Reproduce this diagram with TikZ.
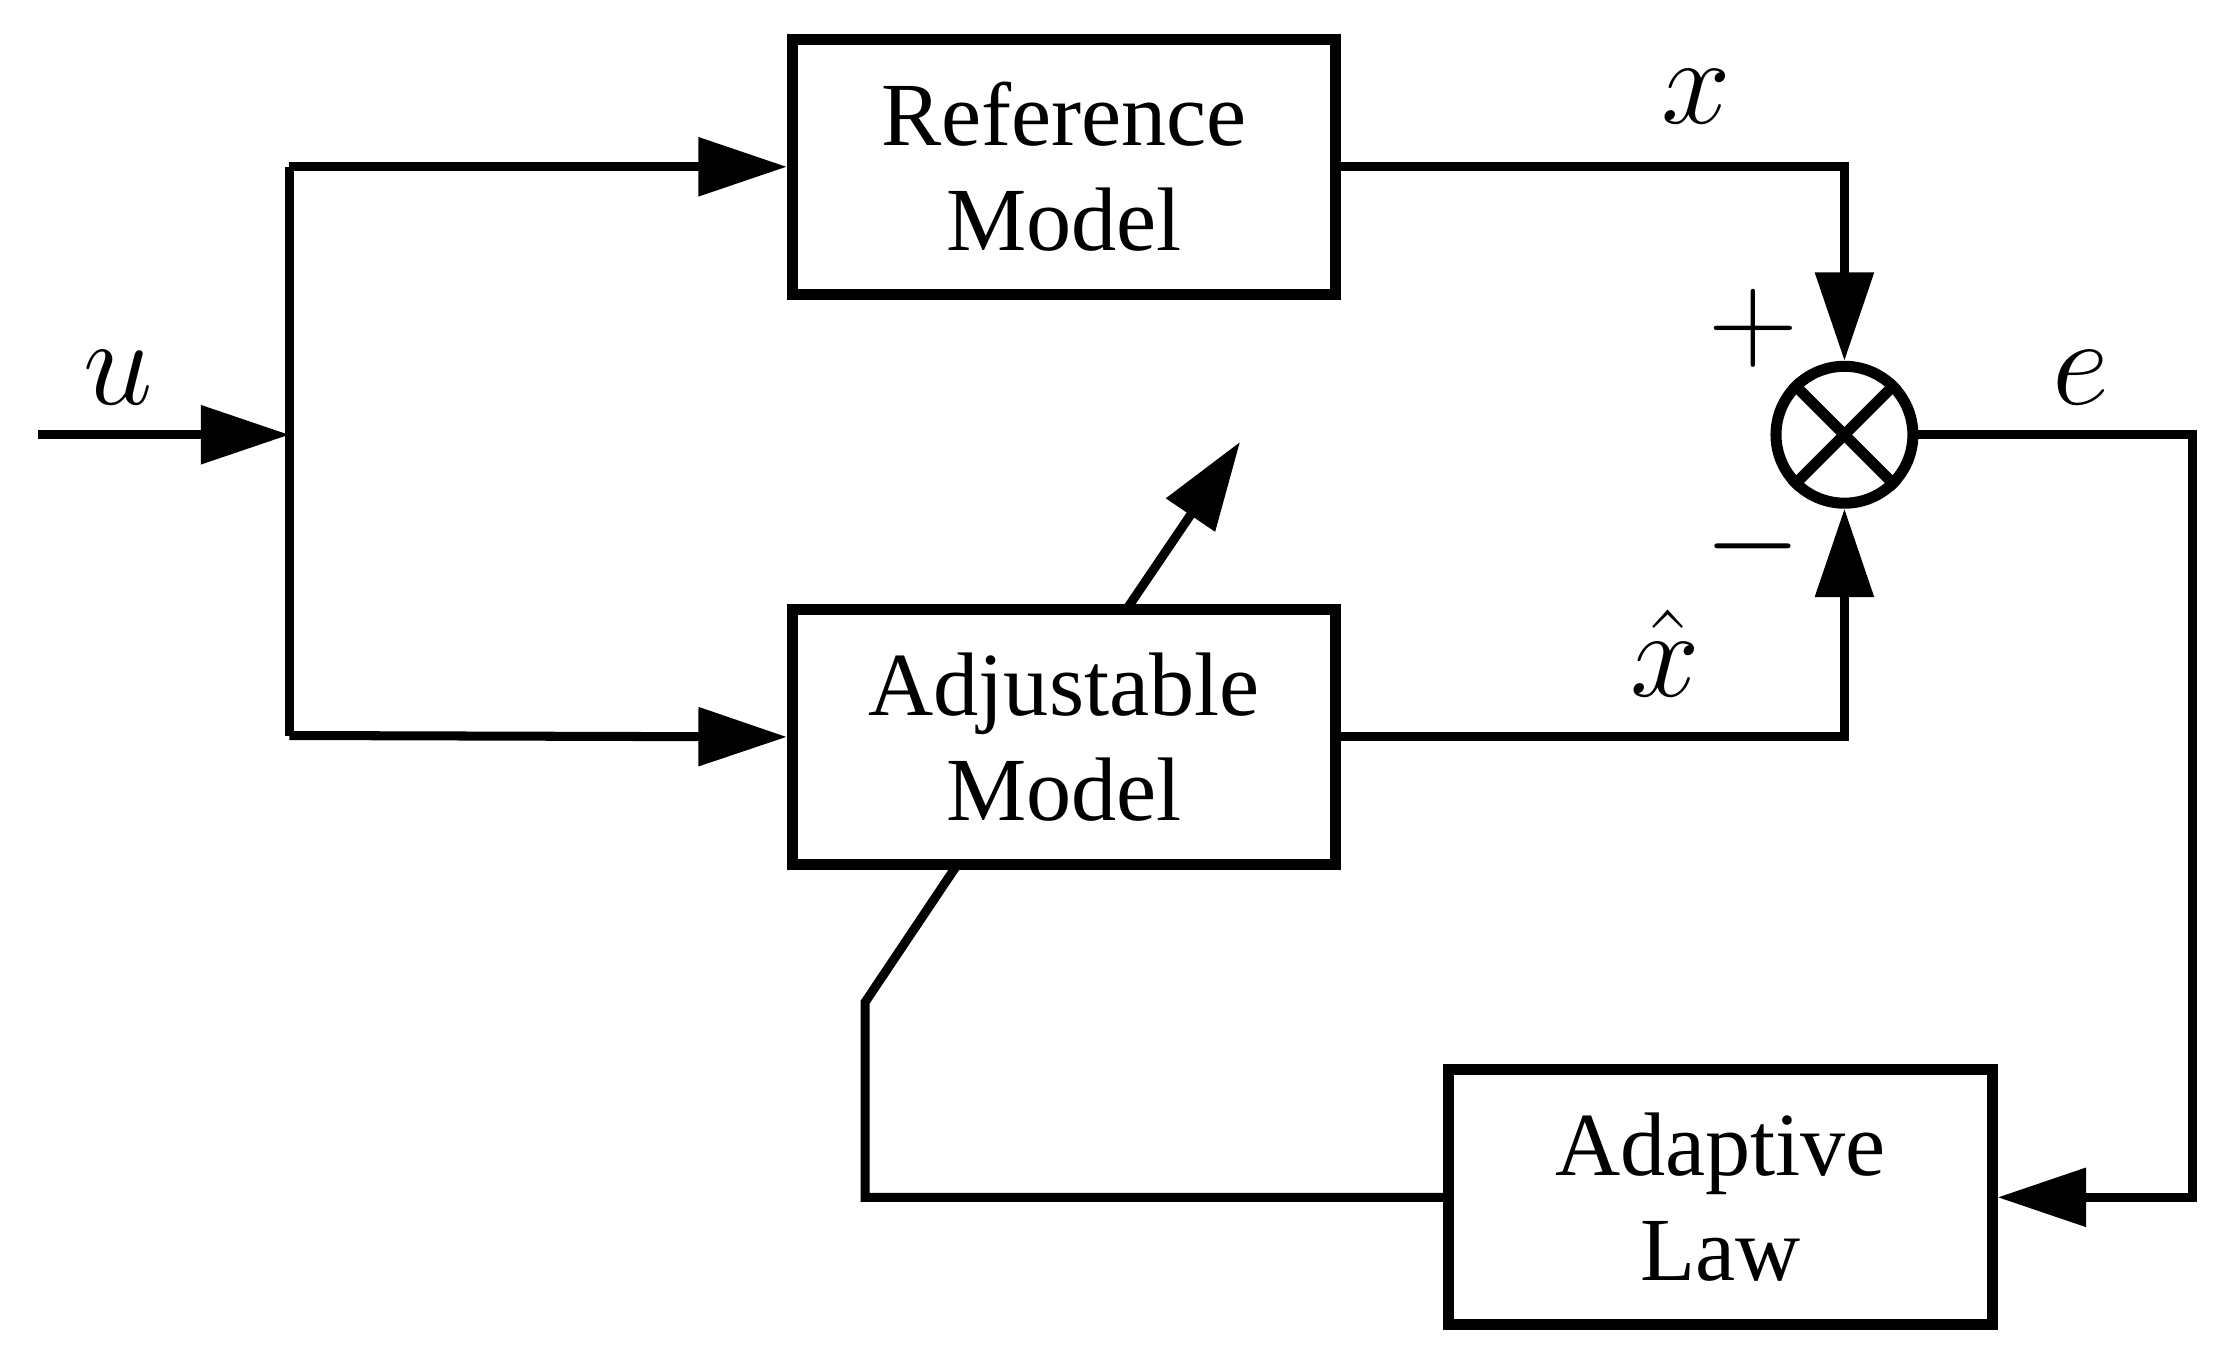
\documentclass[tikz,border=0pt]{standalone}
\usepackage{fontspec}
\setmainfont{Liberation Serif}
\usetikzlibrary{arrows.meta}
\begin{document}
\begin{tikzpicture}[x=0.01cm,y=-0.01cm,
  line width=1.8pt,
  box/.style={draw,line width=2.2pt,minimum width=3.81cm,minimum height=1.79cm,align=center,font=\fontsize{18}{21}\selectfont,inner sep=0pt},
  arr/.style={-{Triangle[length=0.62cm,width=0.4cm]}},
  lbl/.style={font=\fontsize{28}{30}\selectfont}]
\useasboundingbox (0,0) rectangle (1568,957);
\node[box] (ref) at (746.5,117) {Reference\\Model};
\node[box] (adj) at (746.5,517) {Adjustable\\Model};
\node[box] (law) at (1207,840) {Adaptive\\Law};
\node[draw,circle,line width=2.2pt,minimum size=0.96cm,inner sep=0pt] (sum) at (1294,305) {};
\draw[line width=2.2pt] (sum.north east)--(sum.south west) (sum.north west)--(sum.south east);
\coordinate (in) at (27,305);
\coordinate (br) at (203,305);
\draw[arr] (in) -- (br);
\draw (203,117) -- (203,516);
\draw[arr] (203,117) -- (ref.west);
\draw[arr] (203,516) -- (adj.west);
\draw[arr] (ref.east) -| (sum.north);
\draw[arr] (adj.east) -| (sum.south);
\draw[arr] (sum.east) -- (1538,305) |- (law.east);
\coordinate (fb) at (672,606);
\draw (law.west) -- (607,840) -- (607,703) -- (fb);
\coordinate (d0) at (790,428);
\coordinate (d1) at (870,310);
\draw[arr] (d0) -- (d1);
\node[lbl] (lu) at (83,265) {$u$};
\node[lbl] (lx) at (1190,68) {$x$};
\node[lbl] (lxh) at (1168,458) {$\hat{x}$};
\node[lbl] (le) at (1460,265) {$e$};
\node[lbl] (lp) at (1230,230) {$+$};
\node[lbl] (lm) at (1230,383) {$-$};
\end{tikzpicture}
\end{document}
